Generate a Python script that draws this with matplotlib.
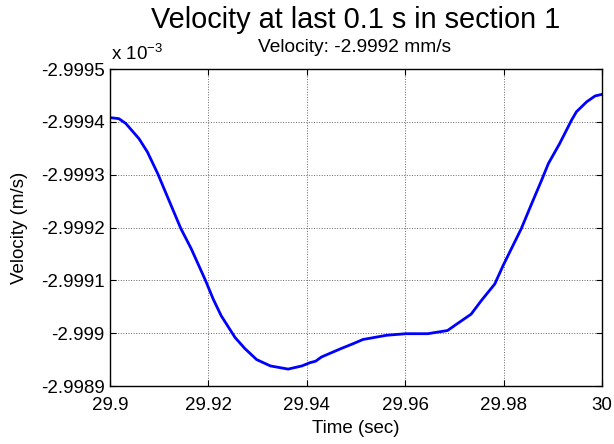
import matplotlib
matplotlib.use("Agg")
import matplotlib.pyplot as plt
from matplotlib.ticker import FuncFormatter

plt.rcParams['font.family'] = ['Liberation Sans', 'DejaVu Sans']
plt.rcParams['mathtext.default'] = 'regular'

# Data (velocity in units of 1e-3 m/s)
time_s = [29.9000, 29.9018, 29.9032, 29.9059, 29.9076, 29.9097, 29.9120, 29.9144,
          29.9165, 29.9194, 29.9210, 29.9226, 29.9254, 29.9274, 29.9298, 29.9326,
          29.9362, 29.9390, 29.9406, 29.9418, 29.9430, 29.9470, 29.9494, 29.9514,
          29.9538, 29.9562, 29.9602, 29.9646, 29.9686, 29.9706, 29.9734, 29.9755,
          29.9782, 29.9799, 29.9836, 29.9857, 29.9877, 29.9891, 29.9914, 29.9938,
          29.9948, 29.9969, 29.9986, 30.0000]
velocity = [-2.999408, -2.999406, -2.999397, -2.999368, -2.999343, -2.999302, -2.999251, -2.999198,
            -2.999160, -2.999100, -2.999064, -2.999033, -2.998992, -2.998971, -2.998950, -2.998938,
            -2.998932, -2.998938, -2.998944, -2.998947, -2.998955, -2.998971, -2.998980, -2.998988,
            -2.998992, -2.998996, -2.998999, -2.998999, -2.999005, -2.999018, -2.999036, -2.999062,
            -2.999093, -2.999128, -2.999198, -2.999245, -2.999289, -2.999321, -2.999359, -2.999403,
            -2.999419, -2.999438, -2.999449, -2.999452]
xticks = [29.9, 29.92, 29.94, 29.96, 29.98, 30.0]
yticks = [-2.9995, -2.9994, -2.9993, -2.9992, -2.9991, -2.9990, -2.9989]

title = "Velocity at last 0.1 s in section 1"
subtitle = "Velocity: -2.9992 mm/s"

fig = plt.figure(figsize=(6.14, 4.44), dpi=100)
ax = fig.add_axes([110/614, 1-386/444, 492/614, 317/444])

ax.plot(time_s, velocity, color=(0, 0, 1), linewidth=2)
ax.set_xlim(29.9, 30.0)
ax.set_ylim(-2.9989, -2.9995)
ax.set_xticks(xticks)
ax.set_yticks(yticks)
fmt = FuncFormatter(lambda v, p: '%g' % round(v, 4))
ax.xaxis.set_major_formatter(fmt)
ax.yaxis.set_major_formatter(fmt)
ax.tick_params(direction='in', length=4, width=0.8, top=True, right=True,
               labelsize=13.5, colors='black')
ax.tick_params(axis='x', pad=8)
ax.tick_params(axis='y', pad=4)
ax.grid(True, linestyle=':', color='#666666', linewidth=0.7)
for s in ax.spines.values():
    s.set_linewidth(1.0)

ax.set_xlabel("Time (sec)", fontsize=13.5, labelpad=4)
ax.set_ylabel("Velocity (m/s)", fontsize=13.5, labelpad=9)

fig.text(356/614, 1-20/444, title, ha='center', va='center', fontsize=20.8)
fig.text(355/614, 1-48/444, subtitle, ha='center', va='center', fontsize=13.8)
fig.text(111/614, 1-60/444, "x 10$^{-3}$", ha='left', va='baseline', fontsize=13.5)

fig.savefig("out.png", dpi=100)
